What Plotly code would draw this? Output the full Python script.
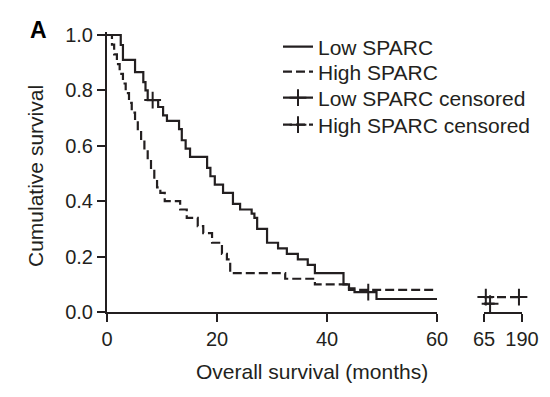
import plotly.graph_objects as go

# ---- data ----
low_t = [0, 2.5, 2.9, 5.1, 6.6, 7.0, 7.4, 9.3, 10.2, 10.9, 13.1, 13.6, 14.3, 15.1,
         18.2, 18.8, 19.6, 21.1, 22.9, 24.2, 26.3, 26.8, 27.3, 29.1, 31.1, 32.7,
         34.7, 36.5, 37.8, 43.0, 44.0, 45.0, 49.0, 60.0]
low_s = [1.0, 0.964, 0.91, 0.866, 0.83, 0.80, 0.765, 0.74, 0.71, 0.69, 0.66, 0.62, 0.59, 0.56,
         0.52, 0.49, 0.46, 0.43, 0.39, 0.37, 0.355, 0.34, 0.30, 0.25, 0.23, 0.21,
         0.19, 0.17, 0.14, 0.10, 0.085, 0.072, 0.047, 0.047]

high_t = [0, 0.9, 1.3, 1.8, 2.3, 2.9, 3.4, 4.0, 4.5, 5.1, 5.6, 6.2, 6.8, 7.4, 8.0, 8.6,
          9.1, 9.7, 10.5, 13.3, 14.5, 16.5, 17.5, 19.1, 20.9, 21.8, 22.4, 32.4, 37.8,
          44.0, 60.0]
high_s = [1.0, 0.965, 0.93, 0.895, 0.86, 0.825, 0.79, 0.755, 0.72, 0.69, 0.655, 0.62,
          0.585, 0.55, 0.515, 0.48, 0.45, 0.43, 0.40, 0.37, 0.34, 0.31, 0.285, 0.25,
          0.21, 0.19, 0.14, 0.12, 0.10, 0.08, 0.08]

low_cens_t = [8.3, 47.5]
low_cens_s = [0.765, 0.072]

# broken-axis (65-190 months) segment
low_tail_t = [65, 100]
low_tail_s = [0.03, 0.03]
low_tail_cens_t = [85]
low_tail_cens_s = [0.03]
high_tail_t = [65, 190]
high_tail_s = [0.054, 0.054]
high_tail_cens_t = [71, 180]
high_tail_cens_s = [0.054, 0.054]

x_ticks_main = [0, 20, 40, 60]
x_ticks_tail = [65, 190]
y_ticks = [0.0, 0.2, 0.4, 0.6, 0.8, 1.0]

INK = "#231f20"
FONT = "Liberation Sans, Arial, sans-serif"
DASH = "9px,4px"
OFF = 8                      # page body margin
FW, FH = 550 - 2 * OFF, 397 - 2 * OFF


def fx(px):
    return (px - OFF) / FW


def fy(py):
    return 1 - (py - OFF) / FH


def with_gaps(xs, ys):
    gx, gy = [], []
    for x, y in zip(xs, ys):
        gx += [x, None]
        gy += [y, None]
    return gx, gy


fig = go.Figure()

line_solid = dict(color=INK, width=2.2)
line_dash = dict(color=INK, width=2.2, dash=DASH)
cross = dict(symbol="cross-thin", size=12, line=dict(color=INK, width=2), color=INK)

fig.add_trace(go.Scatter(x=low_t, y=low_s, mode="lines", line_shape="hv",
                         line=line_solid, name="Low SPARC", legend="legend",
                         cliponaxis=False))
fig.add_trace(go.Scatter(x=high_t, y=high_s, mode="lines", line_shape="hv",
                         line=line_dash, name="High SPARC", legend="legend2",
                         cliponaxis=False))
cx, cy = with_gaps(low_cens_t, low_cens_s)
fig.add_trace(go.Scatter(x=cx, y=cy, mode="lines+markers", line=line_solid, marker=cross,
                         name="Low SPARC censored", legend="legend3", cliponaxis=False))

# tail segment
fig.add_trace(go.Scatter(x=low_tail_t, y=low_tail_s, mode="lines", line=line_solid,
                         xaxis="x2", yaxis="y", showlegend=False, cliponaxis=False))
fig.add_trace(go.Scatter(x=high_tail_t, y=high_tail_s, mode="lines", line=line_dash,
                         xaxis="x2", yaxis="y", showlegend=False, cliponaxis=False))
fig.add_trace(go.Scatter(x=low_tail_cens_t, y=low_tail_cens_s, mode="markers", marker=cross,
                         xaxis="x2", yaxis="y", showlegend=False, cliponaxis=False))
cx, cy = with_gaps(high_tail_cens_t, high_tail_cens_s)
fig.add_trace(go.Scatter(x=cx, y=cy, mode="lines+markers", line=line_dash, marker=cross,
                         name="High SPARC censored", legend="legend4",
                         xaxis="x2", yaxis="y", cliponaxis=False))

axis_common = dict(showline=True, linecolor=INK, linewidth=2, ticks="outside",
                   ticklen=8, tickwidth=2, tickcolor=INK, showgrid=False, zeroline=False,
                   automargin=False,
                   tickfont=dict(family=FONT, size=20, color=INK))

y0_px, y1_px = 312, 35
ytop = 1.012
top_px = y0_px - (y0_px - y1_px) * ytop

legend_style = dict(xanchor="left", yanchor="middle", bgcolor="rgba(0,0,0,0)",
                    font=dict(family=FONT, size=21, color=INK), itemwidth=30)
legend_rows = [47, 72, 98, 125]

fig.update_layout(
    width=FW, height=FH,
    margin=dict(l=0, r=0, t=0, b=0, pad=0, autoexpand=False),
    paper_bgcolor="white", plot_bgcolor="white",
    xaxis=dict(domain=[fx(107), fx(437)], range=[0, 60], tickvals=x_ticks_main,
               anchor="y", **axis_common),
    xaxis2=dict(domain=[fx(484), fx(522)], range=[65, 190], tickvals=x_ticks_tail,
                anchor="y", **axis_common),
    yaxis=dict(domain=[fy(y0_px), fy(top_px)], range=[0, ytop],
               tickvals=y_ticks, tickformat=".1f", anchor="x", **axis_common),
    legend=dict(x=fx(278), y=fy(legend_rows[0]), **legend_style),
    legend2=dict(x=fx(278), y=fy(legend_rows[1]), **legend_style),
    legend3=dict(x=fx(278), y=fy(legend_rows[2]), **legend_style),
    legend4=dict(x=fx(278), y=fy(legend_rows[3]), **legend_style),
    showlegend=True,
)

fig.add_annotation(text="Cumulative survival", x=fx(35), y=fy(176), xref="paper",
                   yref="paper", textangle=-90, showarrow=False,
                   xanchor="center", yanchor="middle",
                   font=dict(family=FONT, size=21, color=INK))
fig.add_annotation(text="Overall survival (months)", x=fx(312), y=fy(371),
                   xref="paper", yref="paper", showarrow=False,
                   xanchor="center", yanchor="middle",
                   font=dict(family=FONT, size=21, color=INK))
fig.add_annotation(text="<b>A</b>", x=fx(38), y=fy(30), xref="paper", yref="paper",
                   showarrow=False, xanchor="center", yanchor="middle",
                   font=dict(family=FONT, size=23, color="black"))

fig.write_html("out.html")
